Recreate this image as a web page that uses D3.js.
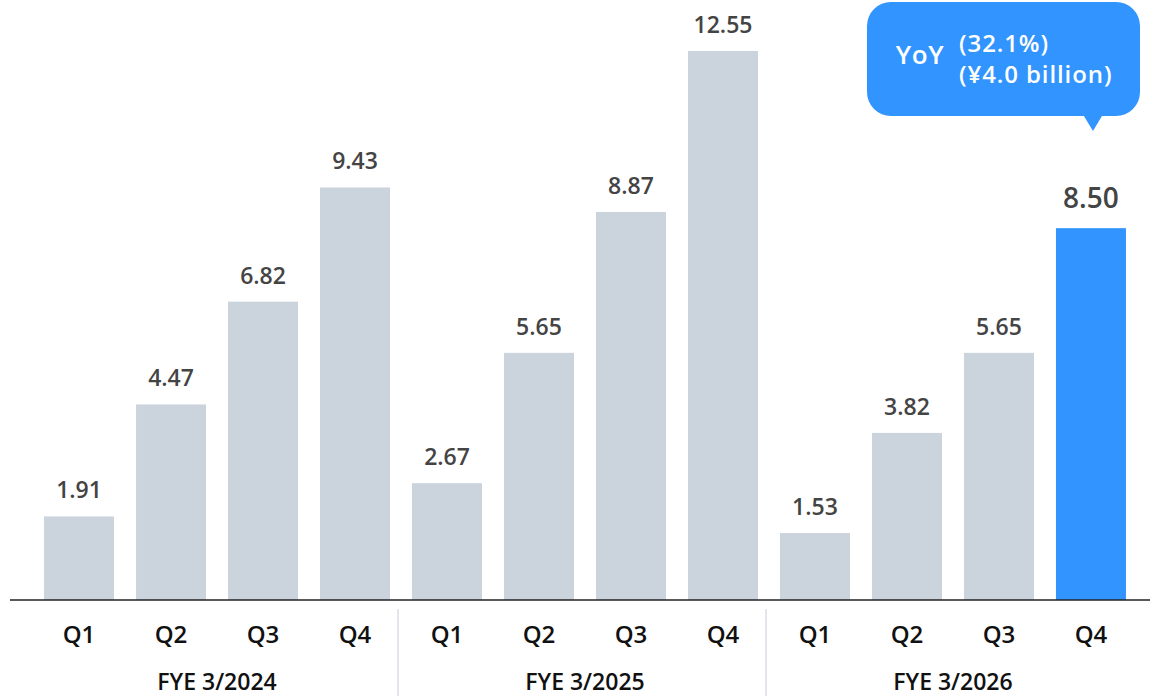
<!DOCTYPE html>
<html>
<head>
<meta charset="utf-8">
<script src="https://cdn.jsdelivr.net/npm/d3@7"></script>
<style>
  html, body { margin: 0; padding: 0; background: #fff; }
  svg { display: block; font-family: "Open Sans", "Noto Sans", sans-serif; }
</style>
</head>
<body>
<svg id="chart" width="1150" height="696"></svg>
<script>
// Quarterly values (¥ billion)
const quarters = ["Q1", "Q2", "Q3", "Q4"];
const fiscalYears = ["FYE 3/2024", "FYE 3/2025", "FYE 3/2026"];
const values = [1.91, 4.47, 6.82, 9.43, 2.67, 5.65, 8.87, 12.55, 1.53, 3.82, 5.65, 8.50];
const calloutLines = ["(32.1%)", "(¥4.0 billion)"];
const calloutLabel = "YoY";

const rows = values.map((v, i) => ({
  key: i,
  year: fiscalYears[Math.floor(i / 4)],
  quarter: quarters[i % 4],
  value: v,
  latest: i === values.length - 1
}));

const svg = d3.select("#chart");
const baseline = 600;

const x = d3.scaleBand()
  .domain(rows.map(d => d.key))
  .range([33, 1137])
  .paddingInner(0.2391)
  .paddingOuter(0.12);

const y = d3.scaleLinear().domain([0, 12.55]).range([baseline, 51]);

// Bars
svg.append("g").selectAll("rect")
  .data(rows)
  .join("rect")
  .attr("x", d => x(d.key))
  .attr("y", d => y(d.value))
  .attr("width", x.bandwidth())
  .attr("height", d => baseline - y(d.value))
  .attr("fill", d => d.latest ? "#3194ff" : "#cbd3dd");

// Value labels
svg.append("g").selectAll("text")
  .data(rows)
  .join("text")
  .attr("x", d => x(d.key) + x.bandwidth() / 2)
  .attr("y", d => y(d.value) - (d.latest ? 20 : 18))
  .attr("text-anchor", "middle")
  .attr("font-size", d => d.latest ? 28 : 23)
  .attr("font-weight", 600)
  .attr("fill", "#444")
  .text(d => d.value.toFixed(2));

// Baseline
svg.append("line")
  .attr("x1", 10).attr("x2", 1150)
  .attr("y1", baseline).attr("y2", baseline)
  .attr("stroke", "#222").attr("stroke-width", 1.5);

// Quarter labels
svg.append("g").selectAll("text")
  .data(rows)
  .join("text")
  .attr("x", d => x(d.key) + x.bandwidth() / 2)
  .attr("y", 643)
  .attr("text-anchor", "middle")
  .attr("font-size", 24)
  .attr("font-weight", 600)
  .attr("fill", "#111")
  .text(d => d.quarter);

// Fiscal year labels and separators
fiscalYears.forEach((fy, gi) => {
  const first = x(gi * 4);
  const last = x(gi * 4 + 3) + x.bandwidth();
  svg.append("text")
    .attr("x", (first + last) / 2)
    .attr("y", 690)
    .attr("text-anchor", "middle")
    .attr("font-size", 23)
    .attr("font-weight", 600)
    .attr("fill", "#111")
    .text(fy);
  if (gi > 0) {
    const sx = first - (x.step() - x.bandwidth()) / 2 - 3;
    svg.append("line")
      .attr("x1", sx).attr("x2", sx)
      .attr("y1", 609).attr("y2", 696)
      .attr("stroke", "#e3e6eb").attr("stroke-width", 2);
  }
});

// YoY callout bubble over the latest bar
const latest = rows[rows.length - 1];
const cx = x(latest.key) + x.bandwidth() / 2;
const bx = 867, by = 2, bw = 273, bh = 114, r = 24;
const tipX = cx + 2, tipY = 131;
const bubble = d3.path();
bubble.moveTo(bx + r, by);
bubble.lineTo(bx + bw - r, by);
bubble.arcTo(bx + bw, by, bx + bw, by + r, r);
bubble.lineTo(bx + bw, by + bh - r);
bubble.arcTo(bx + bw, by + bh, bx + bw - r, by + bh, r);
bubble.lineTo(tipX + 9, by + bh);
bubble.lineTo(tipX, tipY);
bubble.lineTo(tipX - 9, by + bh);
bubble.lineTo(bx + r, by + bh);
bubble.arcTo(bx, by + bh, bx, by + bh - r, r);
bubble.lineTo(bx, by + r);
bubble.arcTo(bx, by, bx + r, by, r);
bubble.closePath();
svg.append("path").attr("d", bubble.toString()).attr("fill", "#3194ff");

svg.append("text")
  .attr("x", 920).attr("y", 64)
  .attr("text-anchor", "middle")
  .attr("font-size", 26)
  .attr("font-weight", 600)
  .attr("letter-spacing", 0.6)
  .attr("fill", "#fff")
  .text(calloutLabel);

svg.append("g").selectAll("text")
  .data(calloutLines)
  .join("text")
  .attr("x", 959)
  .attr("y", (d, i) => 52 + i * 31)
  .attr("font-size", 24)
  .attr("font-weight", 600)
  .attr("letter-spacing", 0.9)
  .attr("fill", "#fff")
  .text(d => d);
</script>
</body>
</html>
